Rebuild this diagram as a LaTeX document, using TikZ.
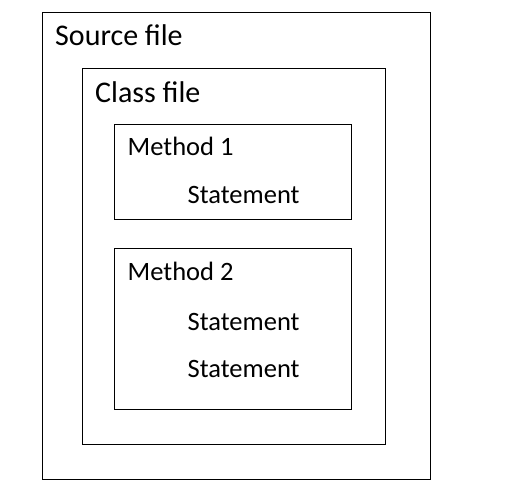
\documentclass[tikz,border=0pt]{standalone}
\usepackage{fontspec}
\setmainfont{Carlito}
\usetikzlibrary{positioning}
\tikzset{
  filebox/.style={draw, line width=0.9pt, anchor=north west, inner sep=0pt},
  biglabel/.style={anchor=base west, inner sep=0pt, font=\fontsize{30}{36}\selectfont},
  smalllabel/.style={anchor=base west, inner sep=0pt, font=\fontsize{26.5}{32}\selectfont}
}
\begin{document}
\begin{tikzpicture}[x=1pt, y=-1pt]
        \useasboundingbox (0,0) rectangle (520,500);
        \node[filebox, minimum width=388pt, minimum height=467pt] (source) at (42,12) {};
        \node[filebox, minimum width=303pt, minimum height=376pt] (class) at (82,68) {};
        \node[filebox, minimum width=237pt, minimum height=95pt] (method1) at (114,124) {};
        \node[filebox, minimum width=237pt, minimum height=161pt] (method2) at (114,248) {};
        \node[biglabel] (sourcelbl) at (55,46) {Source file};
        \node[biglabel] (classlbl) at (95,102.5) {Class file};
        \node[smalllabel] (m1lbl) at (127.5,155.5) {Method 1};
        \node[smalllabel] (m1st) at (187.5,204) {Statement};
        \node[smalllabel] (m2lbl) at (127.5,280.5) {Method 2};
        \node[smalllabel] (m2sta) at (187.5,330) {Statement};
        \node[smalllabel] (m2stb) at (187.5,377) {Statement};
\end{tikzpicture}
\end{document}
